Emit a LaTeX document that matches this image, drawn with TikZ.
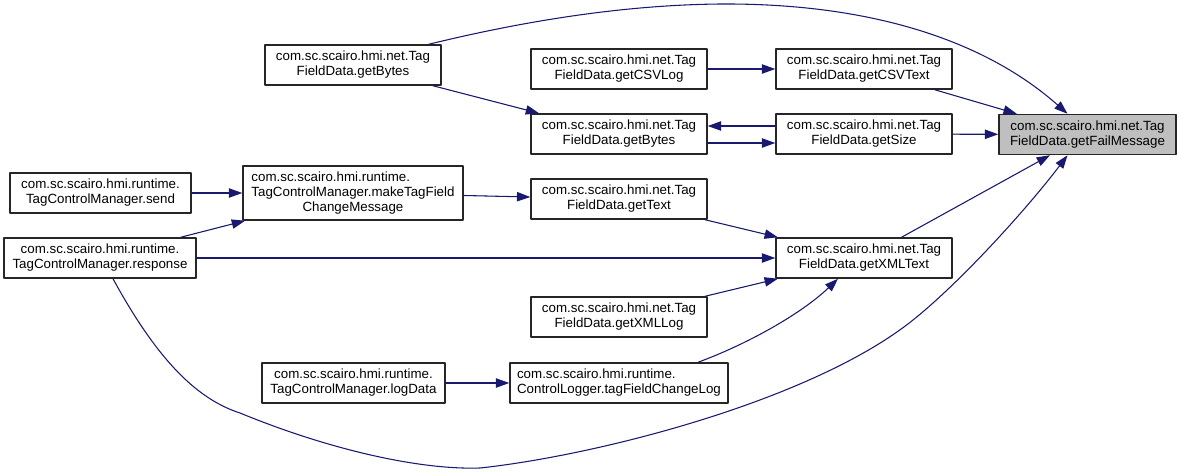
\documentclass[tikz,border=0pt]{standalone}
\usepackage{fontspec}
\setmainfont{Liberation Sans}
\usetikzlibrary{arrows.meta,calc}
\definecolor{edgeblue}{HTML}{191970}
\definecolor{hilite}{HTML}{BFBFBF}
% first line left aligned with the second one
\newcommand{\lfirst}[2]{\rlap{#1}\phantom{#2}}

\begin{document}
\begin{tikzpicture}[x=0.75pt, y=-0.75pt, >={Triangle[length=10pt,width=7pt]},
  line join=round,
  fn/.style={draw=black!85, line width=1.1pt, fill=white, align=center,
    inner sep=0pt, minimum width=132pt, minimum height=30pt,
    font=\fontsize{10}{11.25}\selectfont},
  call/.style={->, draw=edgeblue, fill=edgeblue, line width=0.8pt}]
\useasboundingbox (0,0) rectangle (1181,475);

% ---------- callees (net.TagFieldData) ----------
\node[fn, fill=hilite, minimum width=132.75pt] (fail) at (1087.5,134.5)
  {com.sc.scairo.hmi.net.Tag\\FieldData.getFailMessage};
\node[fn] (csvtext) at (864,69) {com.sc.scairo.hmi.net.Tag\\FieldData.getCSVText};
\node[fn] (size)    at (864,134) {com.sc.scairo.hmi.net.Tag\\FieldData.getSize};
\node[fn] (xml)     at (864,258) {com.sc.scairo.hmi.net.Tag\\FieldData.getXMLText};
\node[fn] (csvlog)  at (619,69) {com.sc.scairo.hmi.net.Tag\\FieldData.getCSVLog};
\node[fn] (gbB)     at (619,134) {com.sc.scairo.hmi.net.Tag\\FieldData.getBytes};
\node[fn] (text)    at (619,199) {com.sc.scairo.hmi.net.Tag\\FieldData.getText};
\node[fn] (xmllog)  at (619,317) {com.sc.scairo.hmi.net.Tag\\FieldData.getXMLLog};
\node[fn] (gbA)     at (353,65) {com.sc.scairo.hmi.net.Tag\\FieldData.getBytes};

% ---------- callers (runtime) ----------
\node[fn, minimum width=165pt, minimum height=40.5pt] (make) at (353,193)
  {\lfirst{com.sc.scairo.hmi.runtime.}{TagControlManager.makeTagField}\\
   TagControlManager.makeTagField\\ChangeMessage};
\node[fn, minimum width=163.5pt] (tfcl) at (619,383)
  {\lfirst{com.sc.scairo.hmi.runtime.}{ControlLogger.tagFieldChangeLog}\\
   ControlLogger.tagFieldChangeLog};
\node[fn, minimum width=135.75pt] (send) at (100.5,193)
  {com.sc.scairo.hmi.runtime.\\TagControlManager.send};
\node[fn, minimum width=144pt] (resp) at (100,258)
  {com.sc.scairo.hmi.runtime.\\TagControlManager.response};
\node[fn, minimum width=137.25pt] (logdata) at (353.5,383)
  {com.sc.scairo.hmi.runtime.\\TagControlManager.logData};

% ---------- straight calls ----------
\draw[call] (gbA) -- (gbB);
\draw[call] (csvlog) -- (csvtext);
\draw[call] (csvtext) -- (fail);
\draw[call] ($(size.west)+(0,-8)$) -- ($(gbB.east)+(0,-8)$);
\draw[call] ($(gbB.east)+(0,9)$) -- ($(size.west)+(0,9)$);
\draw[call] (size) -- (fail);
\draw[call] (send) -- (make);
\draw[call] (resp) -- (make);
\draw[call] (make) -- (text);
\draw[call] (text) -- (xml);
\draw[call] (resp) -- (xml);
\draw[call] (xmllog) -- (xml);
\draw[call] (logdata) -- (tfcl);
\draw[call] (xml) -- (fail);

% ---------- curved calls ----------
\draw[call, fill=none] ($(gbA.north east)+(-13,0)$)
  .. controls (520,22) and (620,5) .. (720,4)
  .. controls (880,3) and (990,45) .. ($(fail.north)+(-20,0)$);
\draw[call, fill=none] ($(tfcl.north)+(79,0)$)
  .. controls (745,345) and (800,315) .. ($(xml.south)+(-26,0)$);
\draw[call, fill=none] ($(resp.south)+(13,0)$)
  .. controls (160,365) and (200,400) .. (240,413)
  .. controls (330,450) and (420,470) .. (480,468)
  .. controls (600,455) and (813,400) .. (913,320)
  .. controls (963,280) and (1030,205) .. ($(fail.south)+(-20,0)$);

\end{tikzpicture}
\end{document}
